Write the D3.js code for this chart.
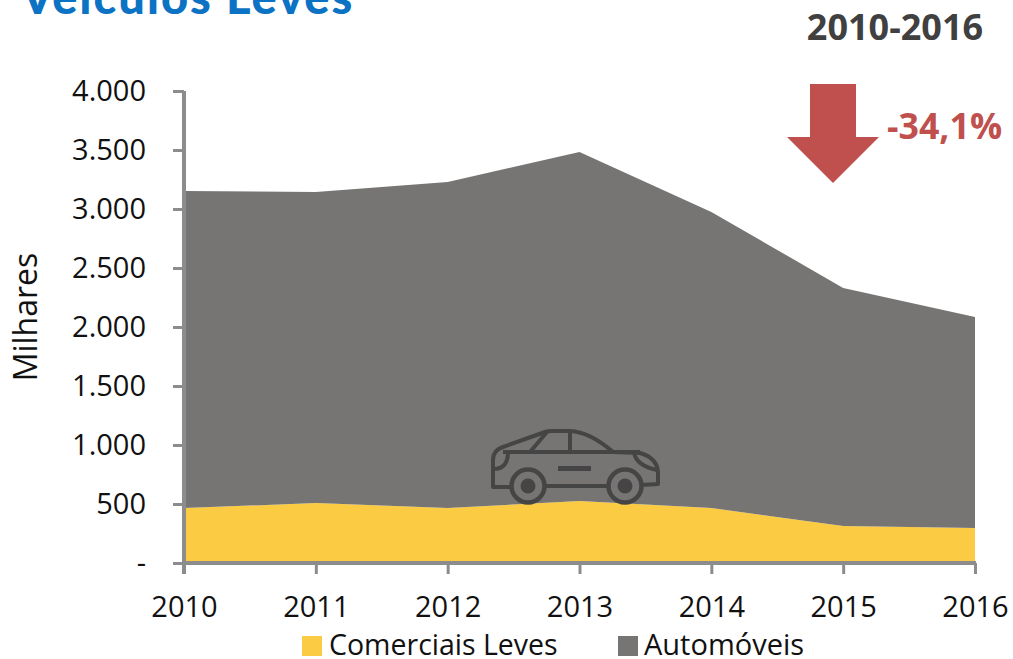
<!DOCTYPE html>
<html><head><meta charset="utf-8">
<script src="https://cdn.jsdelivr.net/npm/d3@7"></script>
<style>html,body{margin:0;padding:0;background:#fff;overflow:hidden}svg{display:block}text{font-family:"Open Sans",sans-serif}</style>
</head><body><svg id="c" width="1013" height="659"></svg>
<script>
const years=[2010,2011,2012,2013,2014,2015,2016];
const comerciais=[466,508,466,525,466,314,297];
const automoveis=[2687,2636,2763,2958,2509,2017,1788];
const yTicks=[0,500,1000,1500,2000,2500,3000,3500,4000];
const yTickLabels=["-","500","1.000","1.500","2.000","2.500","3.000","3.500","4.000"];
const seriesNames=["Comerciais Leves","Automóveis"];
const seriesColors=["#fbcb43","#767573"];

const svg=d3.select("#c");
const x=d3.scalePoint().domain(years).range([184,975]);
const y=d3.scaleLinear().domain([0,4000]).range([563,91]);
const rows=years.map((yr,i)=>({year:yr,[seriesNames[0]]:comerciais[i],[seriesNames[1]]:automoveis[i]}));
const stacked=d3.stack().keys(seriesNames)(rows);
const area=d3.area().x(d=>x(d.data.year)).y0(d=>y(d[0])).y1(d=>y(d[1]));
svg.selectAll("path.a").data(stacked).join("path").attr("class","a")
  .attr("d",area).attr("fill",(d,i)=>seriesColors[i]);

const ax="#8c8c8c";
const gy=svg.append("g").attr("transform","translate(184,0)")
  .call(d3.axisLeft(y).tickValues(yTicks).tickFormat((d,i)=>yTickLabels[i]).tickSize(11).tickPadding(27));
const gx=svg.append("g").attr("transform","translate(0,563)")
  .call(d3.axisBottom(x).tickSize(11).tickPadding(22).tickFormat(d=>d));
[gy,gx].forEach(g=>{
  g.select(".domain").attr("stroke",ax).attr("stroke-width",4);
  g.selectAll(".tick line").attr("stroke",ax).attr("stroke-width",3);
  g.selectAll("text").attr("fill","#111").style("font-size","29px").style("font-family",'"Open Sans",sans-serif');
});
gx.select(".domain").attr("d","M182,0H976");
gy.select(".domain").attr("d","M0,91V574");
gx.selectAll("text").attr("dy","0.71em");

svg.append("text").attr("transform","rotate(-90 37 317)")
  .attr("x",37).attr("y",317).attr("text-anchor","middle").attr("fill","#111")
  .style("font-size","32px").text("Milhares");

// legend
const lg=[{x:302,tx:329},{x:618,tx:644}];
seriesNames.forEach((n,i)=>{
  svg.append("rect").attr("x",lg[i].x).attr("y",636).attr("width",20).attr("height",20).attr("fill",seriesColors[i]);
  svg.append("text").attr("x",lg[i].tx).attr("y",655).attr("fill","#111").style("font-size",i?"29px":"28.5px").text(n);
});

// title, clipped by the top of the page
svg.append("text").attr("x",21).attr("y",14).attr("fill","#0b72c4")
  .style("font-family","Lato,sans-serif").style("font-weight",900).style("font-size","47px").style("letter-spacing","2px").text("Veículos Leves");
svg.append("text").attr("x",895).attr("y",40).attr("text-anchor","middle").attr("fill","#404040")
  .style("font-weight",700).style("font-size","36px").text("2010-2016");
svg.append("text").attr("x",887).attr("y",139).attr("fill","#c0504d")
  .style("font-weight",700).style("font-size","35.7px").text("-34,1%");
svg.append("path").attr("d","M810,84H856V137H879L833,183L787,137H810Z").attr("fill","#c0504d");

// car icon
const ink="#454545";
const car=svg.append("g").attr("fill","none").attr("stroke",ink).attr("stroke-width",4).attr("stroke-linejoin","round");
car.append("path").attr("d","M510,487H493V460Q493,450 503,447L545,432Q548,431 552,431H570Q590,432 613,452L640,453Q657,458 658,472V484L641,485");
car.append("path").attr("d","M545,486H607");
car.append("path").attr("d","M503,452H640");
car.append("path").attr("d","M547,432L530,452M570,431V452");
car.append("path").attr("d","M495,469Q508,468 508,452");
car.append("path").attr("d","M634,453Q637,466 657,470");
[528,625].forEach(cx=>{
  car.append("circle").attr("cx",cx).attr("cy",486).attr("r",16.5).attr("stroke-width",4.5).attr("fill","#767573");
  car.append("circle").attr("cx",cx).attr("cy",486).attr("r",7.5).attr("stroke","none").attr("fill",ink);
});
car.append("rect").attr("x",558).attr("y",466).attr("width",33).attr("height",5).attr("fill",ink).attr("stroke","none");
</script></body></html>
